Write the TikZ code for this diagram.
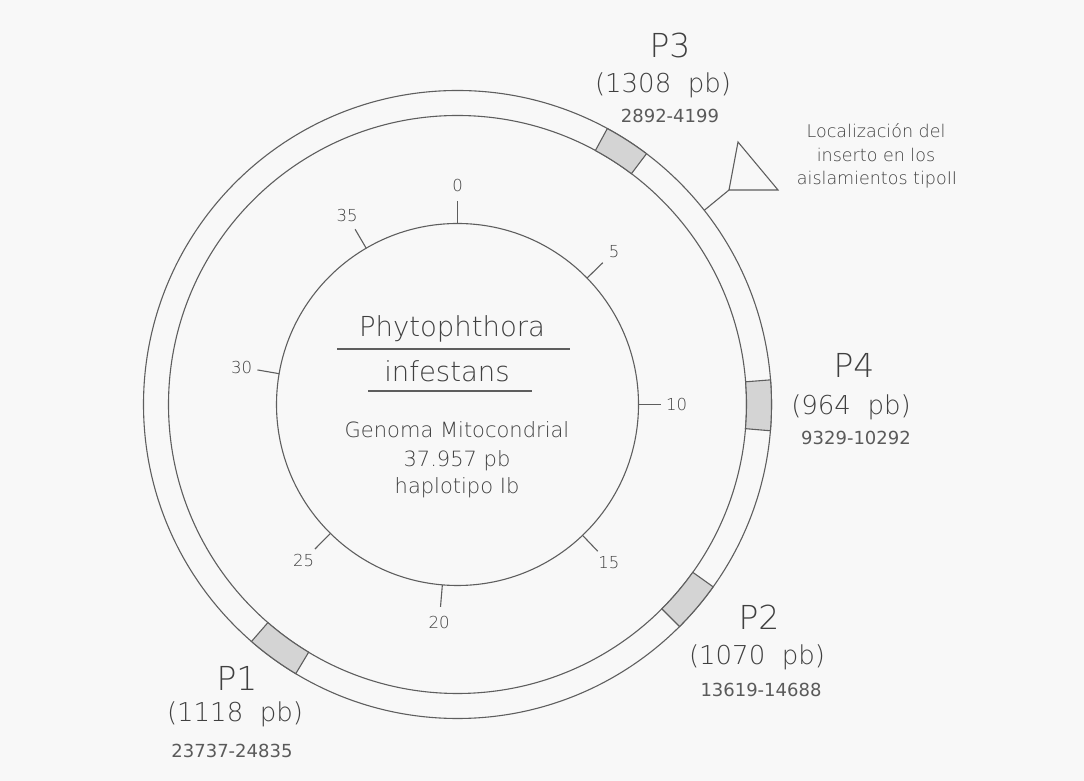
\documentclass[tikz,border=0pt]{standalone}
\usepackage{fontspec}
\setmainfont{DejaVu Sans}
\newfontfamily\thinf{DejaVu Sans ExtraLight}
\usetikzlibrary{calc}
\definecolor{ink}{HTML}{5E5E5E}
\definecolor{txt}{HTML}{404040}
\definecolor{txtb}{HTML}{5A5A5A}
\definecolor{bg}{HTML}{F8F8F8}
\definecolor{patchc}{HTML}{D4D4D4}
\begin{document}
\begin{tikzpicture}[x=1pt,y=1pt,
  ring/.style={draw=ink,line width=1.1pt},
  tickline/.style={draw=ink,line width=1.1pt},
  ticklbl/.style={text=txt,font=\thinf\fontsize{16.5}{18}\selectfont,inner sep=0pt},
  bigl/.style={text=txt,font=\thinf\fontsize{33}{36}\selectfont,inner sep=0pt,anchor=base},
  midl/.style={text=txt,font=\thinf\fontsize{26}{30}\selectfont,inner sep=0pt,anchor=base},
  rngl/.style={text=txtb,font=\fontsize{18}{20}\selectfont,inner sep=0pt,anchor=base},
  titl/.style={text=txt,font=\thinf\fontsize{27.5}{30}\selectfont,inner sep=0pt,anchor=base},
  infol/.style={text=txt,font=\thinf\fontsize{21}{24}\selectfont,inner sep=0pt,anchor=base},
  notel/.style={text=txt,font=\thinf\fontsize{17.5}{20}\selectfont,inner sep=0pt,anchor=base},
  probe/.style={fill=patchc,draw=ink,line width=1.1pt}]
\useasboundingbox (0,0) rectangle (1084,781);
\fill[bg] (0,0) rectangle (1084,781);

\begin{scope}[shift={(457.5,376.5)}]
  % rings
  \draw[ring] (0,0) circle[radius=314];
  \draw[ring] (0,0) circle[radius=289];
  \draw[ring] (0,0) circle[radius=181];
  % probes
  \path[probe] (61.5:289) arc[start angle=61.5,end angle=53,radius=289] -- (53:314) arc[start angle=53,end angle=61.5,radius=314] -- cycle;
  \path[probe] (4.5:289) arc[start angle=4.5,end angle=-4.8,radius=289] -- (-4.8:314) arc[start angle=-4.8,end angle=4.5,radius=314] -- cycle;
  \path[probe] (-35.5:289) arc[start angle=-35.5,end angle=-45,radius=289] -- (-45:314) arc[start angle=-45,end angle=-35.5,radius=314] -- cycle;
  \path[probe] (-121:289) arc[start angle=-121,end angle=-131,radius=289] -- (-131:314) arc[start angle=-131,end angle=-121,radius=314] -- cycle;
  % scale ticks
  \foreach \lab/\ang in {0/90,5/44.3,10/0,15/-46.3,20/-94.8,25/-134.6,30/170.2,35/120.3} {
    \coordinate (t\lab) at (\ang:181);
    \coordinate (e\lab) at (\ang:203);
    \node[ticklbl] (l\lab) at (\ang:219) {\lab};
    \draw[tickline] (t\lab) -- (e\lab);
  }
  \coordinate (stem) at (38.2:314);
\end{scope}

% insertion marker
\coordinate (tri) at (729,591);
\draw[ring] (tri) -- (738,639) -- (778,591) -- cycle;
\draw[ring] (stem) -- (tri);
\node[notel] (n1) at (876,643) {Localización del};
\node[notel] (n2) at (876,619) {inserto en los};
\node[notel] (n3) at (877,596) {aislamientos tipoII};

% centre text
\node[titl] (sp1) at (452,444) {Phytophthora};
\draw[ring] (337,432) -- (570,432);
\node[titl] (sp2) at (447,399) {infestans};
\draw[ring] (368,390) -- (532,390);
\node[infol] (g1) at (457,343) {Genoma Mitocondrial};
\node[infol] (g2) at (457,314) {37.957 pb};
\node[infol] (g3) at (457,287) {haplotipo Ib};

% probe labels
\node[bigl] (p3) at (670,723) {P3};
\node[midl] (p3b) at (663,688) {(1308\ \ pb)};
\node[rngl] (p3c) at (670,658) {2892-4199};

\node[bigl] (p4) at (854,403) {P4};
\node[midl] (p4b) at (851,366) {(964\ \ pb)};
\node[rngl] (p4c) at (856,336) {9329-10292};

\node[bigl] (p2) at (759,151) {P2};
\node[midl] (p2b) at (757,116) {(1070\ \ pb)};
\node[rngl] (p2c) at (761,84) {13619-14688};

\node[bigl] (p1) at (237,90) {P1};
\node[midl] (p1b) at (235,59) {(1118\ \ pb)};
\node[rngl] (p1c) at (232,23) {23737-24835};
\end{tikzpicture}
\end{document}
